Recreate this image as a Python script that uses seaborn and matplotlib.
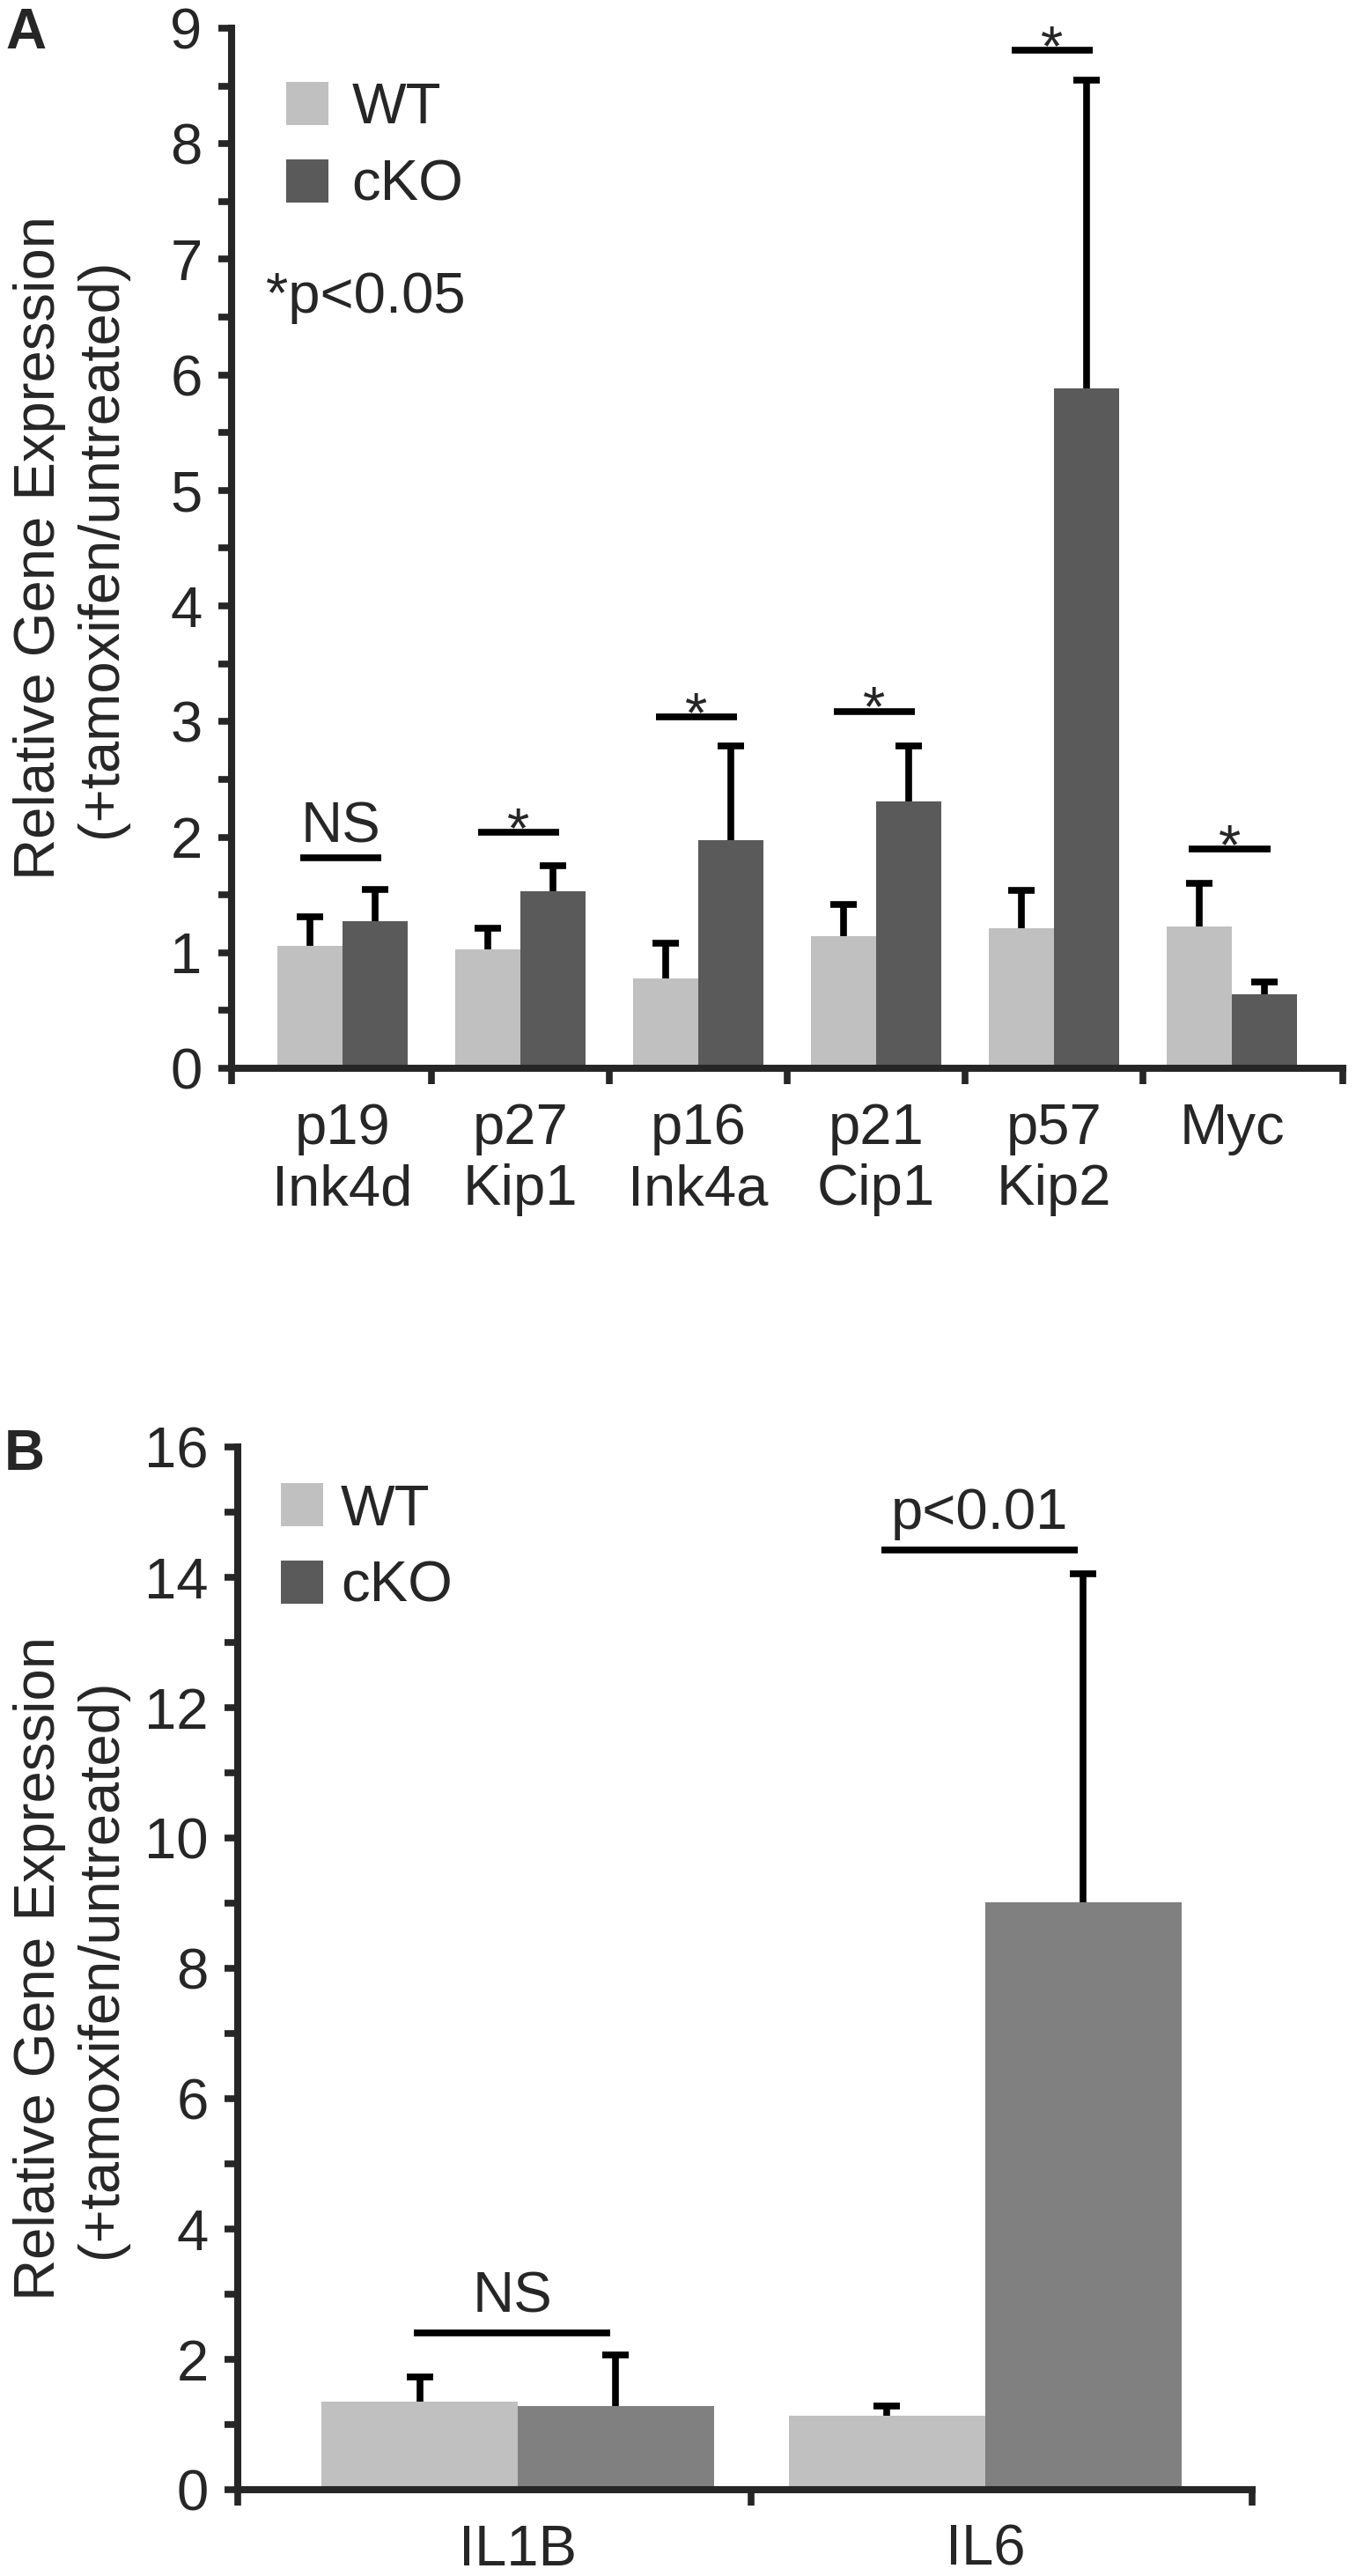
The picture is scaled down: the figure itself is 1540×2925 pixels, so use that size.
import matplotlib
matplotlib.use("Agg")
import matplotlib.pyplot as plt
import seaborn as sns
import pandas as pd
import numpy as np
from matplotlib.patches import Patch
from matplotlib.ticker import FixedLocator, MultipleLocator

# ---- panel A: cell-cycle genes ----
genes_a = ["p19\nInk4d", "p27\nKip1", "p16\nInk4a", "p21\nCip1", "p57\nKip2", "Myc"]
wt_a = [1.06, 1.03, 0.78, 1.14, 1.21, 1.23]
wt_a_err = [0.25, 0.18, 0.30, 0.28, 0.33, 0.37]
cko_a = [1.27, 1.53, 1.97, 2.31, 5.88, 0.64]
cko_a_err = [0.28, 0.22, 0.82, 0.48, 2.67, 0.11]
sig_a = ["NS", "*", "*", "*", "*", "*"]
sig_a_y = [1.82, 2.04, 3.04, 3.09, 8.81, 1.90]

# ---- panel B: cytokines ----
genes_b = ["IL1B", "IL6"]
wt_b = [1.35, 1.14]
wt_b_err = [0.38, 0.14]
cko_b = [1.29, 9.02]
cko_b_err = [0.78, 5.03]
sig_b = ["NS", "p<0.01"]
sig_b_y = [2.40, 14.42]

groups = ["WT", "cKO"]
ylab = "Relative Gene Expression\n(+tamoxifen/untreated)"

FS = 47
LW = 5.5

sns.set_style("ticks")
plt.rcParams["font.family"] = ["Liberation Sans", "DejaVu Sans"]


def draw_panel(ax, genes, wt, wt_err, cko, cko_err, bar_colors, width):
    df = pd.DataFrame({
        "gene": genes * 2,
        "value": wt + cko,
        "group": [groups[0]] * len(genes) + [groups[1]] * len(genes),
    })
    sns.barplot(data=df, x="gene", y="value", hue="group", hue_order=groups,
                palette=bar_colors, width=width, saturation=1, linewidth=0,
                errorbar=None, legend=False, ax=ax)
    # upper-only error bars sitting on each bar
    for cont, errs in zip(ax.containers[:2], [wt_err, cko_err]):
        xs = [b.get_x() + b.get_width() / 2 for b in cont]
        hs = [b.get_height() for b in cont]
        _, caps, _ = ax.errorbar(xs, hs, yerr=[np.zeros(len(errs)), errs], fmt="none",
                                 ecolor="black", elinewidth=LW, capsize=11,
                                 capthick=LW, zorder=3)
        caps[0].set_visible(False)  # no cap at the bar top


def style_axes(ax, n, xlim, ylim, ymajor, yminor):
    ax.set_xlim(*xlim)
    ax.set_ylim(*ylim)
    sns.despine(ax=ax)
    for s in ["left", "bottom"]:
        ax.spines[s].set_linewidth(5.8)
    ax.yaxis.set_major_locator(MultipleLocator(ymajor))
    ax.yaxis.set_minor_locator(MultipleLocator(yminor))
    ax.tick_params(axis="y", which="both", direction="out", length=11, width=LW,
                   pad=13, labelsize=FS)
    ax.xaxis.set_minor_locator(FixedLocator([xlim[0]] + [i + 0.5 for i in range(n - 1)] + [xlim[1]]))
    ax.tick_params(axis="x", which="major", length=0, pad=28, labelsize=FS)
    ax.tick_params(axis="x", which="minor", direction="out", length=13, width=LW)
    ax.set_xlabel("")
    ax.set_ylabel(ylab, fontsize=FS, va="center")


def add_sig(ax, labels, ys, half, shift, text_off):
    for i, (lab, y) in enumerate(zip(labels, ys)):
        ax.plot([i - half + shift, i + half + shift], [y, y], color="black",
                lw=LW, solid_capstyle="butt")
        if lab == "*":
            ax.annotate(lab, (i + shift, y), xytext=(0, 0), textcoords="offset points",
                        ha="center", va="center", fontsize=FS)
        else:
            ax.annotate(lab, (i + shift, y), xytext=(0, text_off), textcoords="offset points",
                        ha="center", va="baseline", fontsize=FS)


def add_legend(ax, colors, anchor, textpad):
    handles = [Patch(facecolor=c, edgecolor="none", label=g) for g, c in zip(groups, colors)]
    ax.legend(handles=handles, loc="upper left", bbox_to_anchor=anchor, frameon=False,
              borderpad=0, borderaxespad=0, handlelength=0.735, handleheight=0.77,
              handletextpad=textpad, labelspacing=0.42, fontsize=FS)


fig = plt.figure(figsize=(15.4, 29.25), dpi=100)

# Panel A
ax1 = fig.add_axes([0.17078, 0.58530, 0.81948, 0.40376])
draw_panel(ax1, genes_a, wt_a, wt_a_err, cko_a, cko_a_err, ["#c0c0c0", "#5a5a5a"], 0.733)
style_axes(ax1, len(genes_a), (-0.624, 5.624), (0, 9), 1, 0.5)
ax1.yaxis.set_label_coords(-0.145, 0.5)
add_sig(ax1, sig_a, sig_a_y, 0.23, -0.01, 13)
add_legend(ax1, ["#c0c0c0", "#5a5a5a"], (0.049, 0.948), 0.41)
ax1.text(0.031, 0.7265, "*p<0.05", transform=ax1.transAxes, ha="left", va="baseline", fontsize=FS)

# Panel B
ax2 = fig.add_axes([0.17532, 0.03350, 0.74805, 0.40479])
draw_panel(ax2, genes_b, wt_b, wt_b_err, cko_b, cko_b_err, ["#c0c0c0", "#808080"], 0.84)
style_axes(ax2, len(genes_b), (-0.599, 1.571), (0, 16), 2, 1)
ax2.yaxis.set_label_coords(-0.165, 0.5)
add_sig(ax2, sig_b, sig_b_y, 0.21, -0.012, 17)
add_legend(ax2, ["#c0c0c0", "#5a5a5a"], (0.0425, 0.965), 0.31)

fig.text(6 / 1540, 1 - 8 / 2925, "A", ha="left", va="top", fontsize=46, fontweight="bold")
fig.text(5 / 1540, 1 - 1622 / 2925, "B", ha="left", va="top", fontsize=46, fontweight="bold")

fig.savefig("out.png", dpi=100)
